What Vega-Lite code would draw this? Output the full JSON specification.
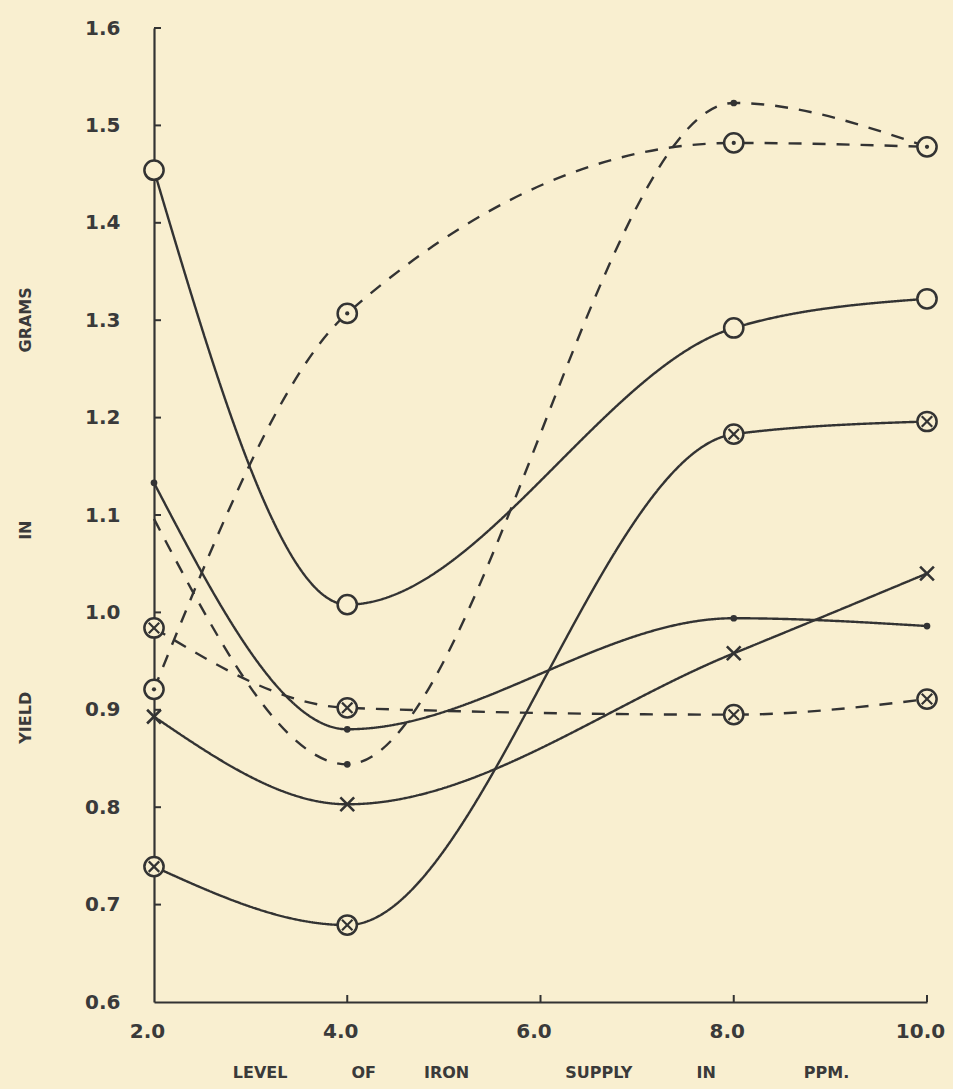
{
  "$schema": "https://vega.github.io/schema/vega-lite/v6.json",
  "width": 773,
  "height": 974,
  "autosize": {"type": "none"},
  "padding": {"left": 154, "top": 28, "right": 26, "bottom": 87},
  "background": "#F9EFD0",
  "config": {
    "view": {"stroke": null},
    "font": "DejaVu Sans",
    "axis": {
      "grid": false,
      "ticks": false,
      "domainColor": "#333333",
      "domainWidth": 2.2,
      "labelFont": "DejaVu Sans",
      "labelFontSize": 20,
      "labelFontWeight": "bold",
      "labelColor": "#3a3a3a",
      "labelFlush": false,
      "labelOverlap": false,
      "titleFont": "DejaVu Sans",
      "titleFontSize": 16,
      "titleFontWeight": "bold",
      "titleColor": "#3a3a3a"
    }
  },
  "datasets": {
    "main": [
      {"series": "A", "style": "solid", "marker": "ring", "iron": 2, "yield": 1.454},
      {"series": "A", "style": "solid", "marker": "ring", "iron": 4, "yield": 1.008},
      {"series": "A", "style": "solid", "marker": "ring", "iron": 8, "yield": 1.292},
      {"series": "A", "style": "solid", "marker": "ring", "iron": 10, "yield": 1.322},
      {"series": "B", "style": "dashed", "marker": "ringdot", "iron": 2, "yield": 0.921},
      {"series": "B", "style": "dashed", "marker": "ringdot", "iron": 4, "yield": 1.307},
      {"series": "B", "style": "dashed", "marker": "ringdot", "iron": 8, "yield": 1.482},
      {"series": "B", "style": "dashed", "marker": "ringdot", "iron": 10, "yield": 1.478},
      {"series": "C", "style": "dashed", "marker": "none", "iron": 2, "yield": 1.096},
      {"series": "C", "style": "dashed", "marker": "dot", "iron": 4, "yield": 0.844},
      {"series": "C", "style": "dashed", "marker": "dot", "iron": 8, "yield": 1.523},
      {"series": "C", "style": "dashed", "marker": "none", "iron": 10, "yield": 1.478},
      {"series": "D", "style": "solid", "marker": "dot", "iron": 2, "yield": 1.133},
      {"series": "D", "style": "solid", "marker": "dot", "iron": 4, "yield": 0.88},
      {"series": "D", "style": "solid", "marker": "dot", "iron": 8, "yield": 0.994},
      {"series": "D", "style": "solid", "marker": "dot", "iron": 10, "yield": 0.986},
      {"series": "E", "style": "solid", "marker": "x", "iron": 2, "yield": 0.893},
      {"series": "E", "style": "solid", "marker": "x", "iron": 4, "yield": 0.803},
      {"series": "E", "style": "solid", "marker": "x", "iron": 8, "yield": 0.958},
      {"series": "E", "style": "solid", "marker": "x", "iron": 10, "yield": 1.04},
      {"series": "F", "style": "solid", "marker": "otimes", "iron": 2, "yield": 0.739},
      {"series": "F", "style": "solid", "marker": "otimes", "iron": 4, "yield": 0.679},
      {"series": "F", "style": "solid", "marker": "otimes", "iron": 8, "yield": 1.183},
      {"series": "F", "style": "solid", "marker": "otimes", "iron": 10, "yield": 1.196},
      {"series": "G", "style": "dashed", "marker": "otimes", "iron": 2, "yield": 0.984},
      {"series": "G", "style": "dashed", "marker": "otimes", "iron": 4, "yield": 0.902},
      {"series": "G", "style": "dashed", "marker": "otimes", "iron": 8, "yield": 0.895},
      {"series": "G", "style": "dashed", "marker": "otimes", "iron": 10, "yield": 0.911}
    ],
    "xticks": [{"tick": 4}, {"tick": 6}, {"tick": 8}, {"tick": 10}],
    "yticks": [{"tick": 0.7}, {"tick": 0.8}, {"tick": 0.9}, {"tick": 1.0}, {"tick": 1.1}, {"tick": 1.2}, {"tick": 1.3}, {"tick": 1.4}, {"tick": 1.5}, {"tick": 1.6}]
  },
  "layer": [
    {
      "data": {"name": "main"},
      "mark": {"type": "line", "interpolate": "monotone", "stroke": "#333333", "strokeWidth": 2.4},
      "encoding": {
        "x": {
          "field": "iron",
          "type": "quantitative",
          "scale": {"domain": [2, 10], "nice": false, "zero": false},
          "title": "LEVEL\u2003\u2003\u2003\u2003OF\u2003\u2003\u2003IRON\u2003\u2003\u2003\u2003\u2003\u2003SUPPLY\u2003\u2003\u2003\u2003IN\u2003\u2003\u2003\u2003\u2003\u2002PPM.",
          "axis": {
            "values": [2, 4, 6, 8, 10],
            "format": ".1f",
            "labelPadding": 35,
            "labelBaseline": "alphabetic",
            "labelOffset": -7,
            "titleBaseline": "alphabetic",
            "titleY": 75
          }
        },
        "y": {
          "field": "yield",
          "type": "quantitative",
          "scale": {"domain": [0.6, 1.6], "nice": false, "zero": false},
          "title": "YIELD\u2003\u2003\u2003\u2003\u2003\u2003\u2003\u2003\u2003\u2002IN\u2003\u2003\u2003\u2003\u2003\u2003\u2003\u2003\u2003\u2003\u2002GRAMS",
          "axis": {
            "values": [0.6, 0.7, 0.8, 0.9, 1.0, 1.1, 1.2, 1.3, 1.4, 1.5, 1.6],
            "format": ".1f",
            "labelPadding": 34,
            "titleAngle": 270,
            "titleX": -129,
            "titleY": 487,
            "titleAlign": "center",
            "titleBaseline": "middle"
          }
        },
        "detail": {"field": "series", "type": "nominal"},
        "strokeDash": {
          "field": "style",
          "type": "nominal",
          "scale": {"domain": ["solid", "dashed"], "range": [[1, 0], [13, 11]]},
          "legend": null
        }
      }
    },
    {
      "data": {"name": "main"},
      "transform": [{"filter": "indexof(['ring','ringdot','otimes'], datum.marker) >= 0"}],
      "mark": {"type": "point", "shape": "circle", "size": 370, "filled": true, "fill": "#F9EFD0", "stroke": "#333333", "strokeWidth": 2.5, "opacity": 1},
      "encoding": {
        "x": {"field": "iron", "type": "quantitative"},
        "y": {"field": "yield", "type": "quantitative"}
      }
    },
    {
      "data": {"name": "main"},
      "transform": [{"filter": "datum.marker == 'ringdot'"}],
      "mark": {"type": "point", "shape": "circle", "size": 18, "filled": true, "fill": "#333333", "opacity": 1},
      "encoding": {
        "x": {"field": "iron", "type": "quantitative"},
        "y": {"field": "yield", "type": "quantitative"}
      }
    },
    {
      "data": {"name": "main"},
      "transform": [{"filter": "datum.marker == 'otimes'"}],
      "mark": {"type": "point", "shape": "M-1,-1L1,1M-1,1L1,-1", "size": 110, "filled": false, "stroke": "#333333", "strokeWidth": 2.2, "opacity": 1},
      "encoding": {
        "x": {"field": "iron", "type": "quantitative"},
        "y": {"field": "yield", "type": "quantitative"}
      }
    },
    {
      "data": {"name": "main"},
      "transform": [{"filter": "datum.marker == 'x'"}],
      "mark": {"type": "point", "shape": "M-1,-1L1,1M-1,1L1,-1", "size": 190, "filled": false, "stroke": "#333333", "strokeWidth": 2.6, "opacity": 1},
      "encoding": {
        "x": {"field": "iron", "type": "quantitative"},
        "y": {"field": "yield", "type": "quantitative"}
      }
    },
    {
      "data": {"name": "main"},
      "transform": [{"filter": "datum.marker == 'dot'"}],
      "mark": {"type": "point", "shape": "circle", "size": 45, "filled": true, "fill": "#333333", "opacity": 1},
      "encoding": {
        "x": {"field": "iron", "type": "quantitative"},
        "y": {"field": "yield", "type": "quantitative"}
      }
    },
    {
      "data": {"name": "xticks"},
      "mark": {"type": "rule", "stroke": "#333333", "strokeWidth": 2, "y2Offset": -7},
      "encoding": {
        "x": {"field": "tick", "type": "quantitative"},
        "y": {"datum": 0.6, "type": "quantitative"},
        "y2": {"datum": 0.6}
      }
    },
    {
      "data": {"name": "yticks"},
      "mark": {"type": "rule", "stroke": "#333333", "strokeWidth": 2, "x2Offset": 7},
      "encoding": {
        "y": {"field": "tick", "type": "quantitative"},
        "x": {"datum": 2, "type": "quantitative"},
        "x2": {"datum": 2}
      }
    }
  ]
}
